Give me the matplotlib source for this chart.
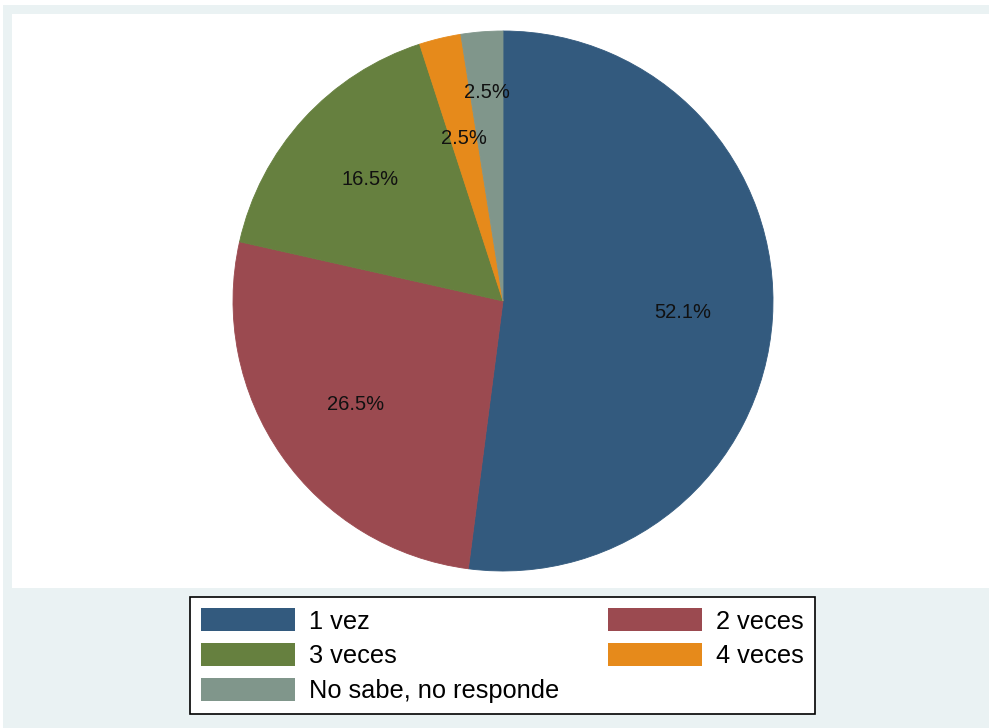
import numpy as np
import matplotlib.pyplot as plt
from matplotlib.patches import Rectangle, Patch

plt.rcParams['font.family'] = ['Liberation Sans', 'DejaVu Sans']

categorias = ["1 vez", "2 veces", "3 veces", "4 veces", "No sabe, no responde"]
porcentajes = [52.1, 26.5, 16.5, 2.5, 2.5]
colores = ["#335a7e", "#9b4a50", "#66803f", "#e68a1b", "#80968b"]
# distancia de cada etiqueta al centro (fraccion del radio)
dist_etiquetas = [0.667, 0.667, 0.667, 0.62, 0.775]

W, H = 989, 728
fig = plt.figure(figsize=(W / 100, H / 100), dpi=100, facecolor="white")

# Fondo del grafico (estilo Stata)
fig.patches.append(Rectangle((3 / W, 0), 1, 1 - 5 / H, transform=fig.transFigure,
                             facecolor="#eaf2f3", edgecolor="none", zorder=-2))
fig.patches.append(Rectangle((12 / W, 1 - 588 / H), 1, (588 - 14) / H,
                             transform=fig.transFigure, facecolor="white",
                             edgecolor="none", zorder=-1))

# Pastel: centro (503, 301), radio 270 px
r = 270
ax = fig.add_axes([(503 - r) / W, (H - 301 - r) / H, 2 * r / W, 2 * r / H])
wedges, textos = ax.pie(
    porcentajes, colors=colores, startangle=90, counterclock=False,
    wedgeprops=dict(linewidth=0.6, antialiased=True))
for w, c, v, d in zip(wedges, colores, porcentajes, dist_etiquetas):
    w.set_edgecolor(c)
    ang = np.deg2rad((w.theta1 + w.theta2) / 2)
    ax.text(d * np.cos(ang), d * np.sin(ang), f"{v}%", ha="center", va="center",
            fontsize=14.5, color="#111111")
ax.set_xlim(-1, 1)
ax.set_ylim(-1, 1)
ax.set_aspect("equal")
ax.axis("off")

# Leyenda en dos columnas
orden = [0, 2, 4, 1, 3]
handles = [Patch(facecolor=colores[i], edgecolor="none") for i in orden]
labels = [categorias[i] for i in orden]
leg = fig.legend(handles, labels, ncol=2, loc="upper left",
                 bbox_to_anchor=(190 / W, 1 - 597 / H), fontsize=18.3,
                 frameon=True, fancybox=False, framealpha=1, borderpad=0.45,
                 handlelength=3.7, handleheight=1.0, handletextpad=0.55,
                 labelspacing=0.38, columnspacing=1.9, borderaxespad=0)
leg.get_frame().set_edgecolor("black")
leg.get_frame().set_linewidth(1.2)
leg.get_frame().set_facecolor("white")

fig.savefig("out.png", dpi=100, facecolor="white")
